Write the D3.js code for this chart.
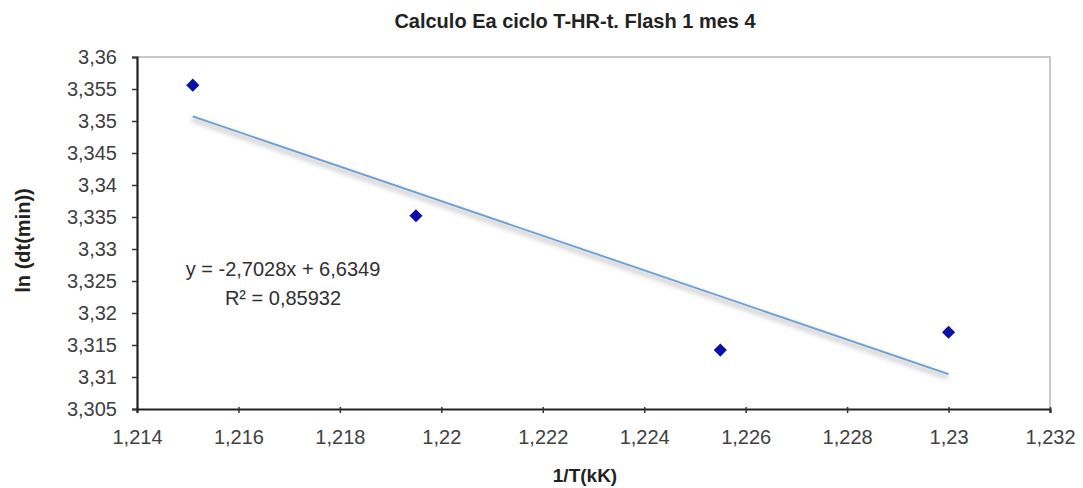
<!DOCTYPE html>
<html>
<head>
<meta charset="utf-8">
<script src="https://cdn.jsdelivr.net/npm/d3@7"></script>
<style>
  html, body { margin: 0; padding: 0; background: #fff; }
  svg { display: block; }
  text { font-family: "Liberation Sans", Arial, sans-serif; }
</style>
</head>
<body>
<svg id="chart" width="1083" height="488"></svg>
<script>
// Arrhenius-style data: inverse temperature vs log of time
const invT = [1.2151, 1.2195, 1.2255, 1.2300];
const lnDt = [3.3556, 3.3352, 3.3142, 3.3170];
const xTicks = [1.214, 1.216, 1.218, 1.22, 1.222, 1.224, 1.226, 1.228, 1.23, 1.232];
const yTicks = [3.305, 3.31, 3.315, 3.32, 3.325, 3.33, 3.335, 3.34, 3.345, 3.35, 3.355, 3.36];
const slope = -2.7028;
const intercept = 6.6349;
const r2 = 0.85932;

const svg = d3.select("#chart");
const margin = { left: 137, top: 57, right: 1083 - 1050, bottom: 488 - 409 };
const W = 1083, H = 488;

const x = d3.scaleLinear().domain([1.214, 1.232]).range([margin.left, W - margin.right]);
const y = d3.scaleLinear().domain([3.305, 3.36]).range([H - margin.bottom, margin.top]);

const comma = v => String(+v.toFixed(5)).replace(".", ",");

// Plot frame: light top/right edges
svg.append("path")
  .attr("d", `M${x(1.214)},${y(3.36)}H${x(1.232)}V${y(3.305)}`)
  .attr("fill", "none").attr("stroke", "#b8b8b8").attr("stroke-width", 1.5);

// Axes
const xAxis = svg.append("g")
  .attr("transform", `translate(0,${y(3.305)})`)
  .call(d3.axisBottom(x).tickValues(xTicks).tickFormat(comma).tickSize(4).tickPadding(17));
const yAxis = svg.append("g")
  .attr("transform", `translate(${x(1.214)},0)`)
  .call(d3.axisLeft(y).tickValues(yTicks).tickFormat(comma).tickSize(5).tickPadding(15));

[xAxis, yAxis].forEach(g => {
  g.select(".domain").attr("stroke", "#222").attr("stroke-width", 2.2);
  g.selectAll(".tick line").attr("stroke", "#333").attr("stroke-width", 1.5);
  g.selectAll(".tick text").attr("fill", "#404040").attr("font-size", 20)
    .attr("font-family", "'Liberation Sans', Arial, sans-serif");
});
xAxis.selectAll(".tick line").attr("y1", -2);

// Trendline with soft shadow
const defs = svg.append("defs");
defs.append("filter").attr("id", "soft").attr("x", "-10%").attr("y", "-50%").attr("width", "120%").attr("height", "200%")
  .append("feGaussianBlur").attr("stdDeviation", 2.5);

const xs = [invT[0], invT[invT.length - 1]];
const trend = d3.line().x(d => x(d)).y(d => y(slope * d + intercept));
svg.append("path").datum(xs).attr("d", trend)
  .attr("transform", "translate(-1,3)")
  .attr("fill", "none").attr("stroke", "#c8c8c8").attr("stroke-width", 4)
  .attr("filter", "url(#soft)");
svg.append("path").datum(xs).attr("d", trend)
  .attr("fill", "none").attr("stroke", "#6a9fd6").attr("stroke-width", 1.8);

// Data markers (diamonds)
svg.append("g").selectAll("path").data(invT).join("path")
  .attr("d", d3.symbol().type(d3.symbolDiamond2).size(110))
  .attr("transform", (d, i) => `translate(${x(d)},${y(lnDt[i])})`)
  .attr("fill", "#0810a8");

// Regression equation
const eq = svg.append("text").attr("fill", "#303030").attr("font-size", 20).attr("text-anchor", "middle");
eq.append("tspan").attr("x", 283).attr("y", 276).text(`y = ${comma(slope)}x + ${comma(intercept)}`);
eq.append("tspan").attr("x", 283).attr("y", 305).text(`R² = ${comma(r2)}`);

// Title and axis titles
svg.append("text").attr("x", 575).attr("y", 28).attr("text-anchor", "middle")
  .attr("font-weight", "bold").attr("font-size", 20).attr("fill", "#222")
  .text("Calculo Ea ciclo T-HR-t. Flash 1 mes 4");
svg.append("text").attr("x", 585).attr("y", 482).attr("text-anchor", "middle")
  .attr("font-weight", "bold").attr("font-size", 19).attr("fill", "#222")
  .text("1/T(kK)");
svg.append("text").attr("transform", `translate(30,${(188 + 293) / 2}) rotate(-90)`)
  .attr("text-anchor", "middle").attr("font-weight", "bold").attr("font-size", 20).attr("fill", "#222")
  .text("ln (dt(min))");
</script>
</body>
</html>
